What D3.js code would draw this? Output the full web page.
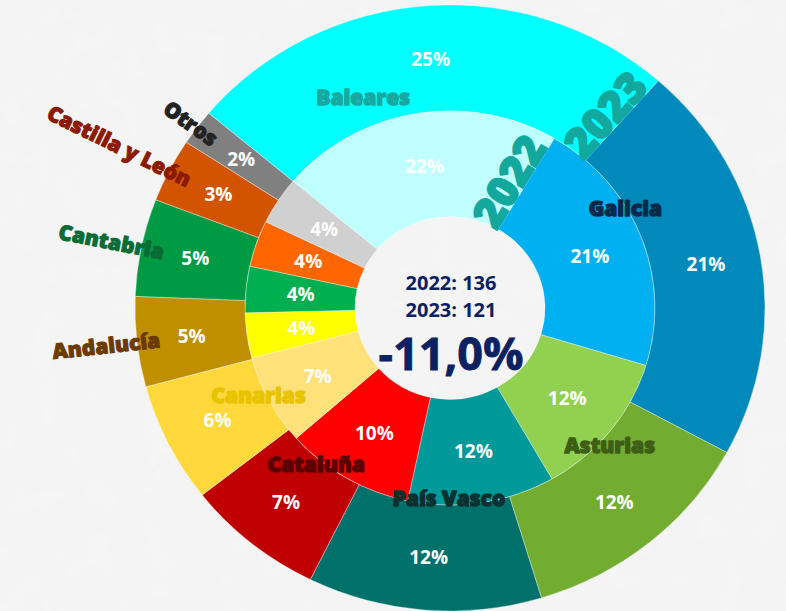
<!DOCTYPE html>
<html>
<head>
<meta charset="utf-8">
<script src="https://cdn.jsdelivr.net/npm/d3@7"></script>
<style>
  html, body { margin: 0; padding: 0; background: #f3f3f3; }
  svg { display: block; }
</style>
</head>
<body>
<svg id="chart" width="786" height="611"></svg>
<script>
// ---------------- DATA ----------------
const categories = ["Baleares", "Galicia", "Asturias", "País Vasco", "Cataluña",
                    "Canarias", "Andalucía", "Cantabria", "Castilla y León", "Otros"];
// share of total (%) per year
const share2022 = [22.4, 21.2, 12.0, 11.6, 10.2, 7.4, 3.7, 3.8, 3.8, 3.9];
const share2023 = [25.4, 21.4, 12.4, 12.0, 7.1, 6.4, 4.8, 5.2, 3.4, 1.9];
const years = ["2022", "2023"];
const totals = [136, 121];

// ---------------- STYLE ----------------
const colors2022 = ["#BFFFFF", "#00B0F0", "#92D050", "#009999", "#FF0000",
                    "#FFE17A", "#FFFF00", "#00B050", "#FF6600", "#D0D0D0"];
const colors2023 = ["#00FFFF", "#0089BA", "#72AC30", "#00706B", "#C00000",
                    "#FFD83C", "#BF8F00", "#009944", "#D35400", "#808080"];
const nameColors = {
  "Baleares": "#17A89F", "Galicia": "#0A2A4A", "Asturias": "#3E5E16",
  "País Vasco": "#0A3030", "Cataluña": "#5A0000", "Canarias": "#E8C300",
  "Andalucía": "#6B3A00", "Cantabria": "#0A6B35", "Castilla y León": "#8B1A00",
  "Otros": "#222222"
};
// polar placement (deg clockwise from top, radius) of names drawn inside the rings
const nameLayout = {
  "Baleares": [338.4, 236], "Galicia": [59.3, 204], "Asturias": [131.7, 214],
  "País Vasco": [180.3, 197], "Cataluña": [219.6, 210], "Canarias": [244.6, 212]
};

const W = 786, H = 611;
const cx = 450, cy = 308, ky = 0.962;
const rHole = 95, rMid = 205, rOut = 315;
const startA = -50 * Math.PI / 180;
const navy = "#0B2161";
const teal = "#12A89D";

const svg = d3.select("#chart");
const defs = svg.append("defs");
const flt = defs.append("filter").attr("id", "paper").attr("x", 0).attr("y", 0)
  .attr("width", "100%").attr("height", "100%");
flt.append("feTurbulence").attr("type", "fractalNoise").attr("baseFrequency", 0.035)
  .attr("numOctaves", 3).attr("seed", 4).attr("result", "n");
flt.append("feColorMatrix").attr("in", "n").attr("type", "matrix")
  .attr("values", "0 0 0 0 0.93  0 0 0 0 0.93  0 0 0 0 0.93  0 0 0 0.35 -0.05");
svg.append("rect").attr("width", W).attr("height", H).attr("fill", "#f4f4f4");
svg.append("rect").attr("width", W).attr("height", H).attr("filter", "url(#paper)");

const pie = d3.pie().sort(null).value(d => d)
  .startAngle(startA).endAngle(startA + 2 * Math.PI);
const pies = [pie(share2022), pie(share2023)];
const arcs = [
  d3.arc().innerRadius(rHole).outerRadius(rMid),
  d3.arc().innerRadius(rMid).outerRadius(rOut)
];
const palettes = [colors2022, colors2023];

const ringG = svg.append("g").attr("transform", `translate(${cx},${cy}) scale(1,${ky})`);
pies.forEach((p, i) => {
  ringG.append("g").selectAll("path").data(p).join("path")
    .attr("d", arcs[i])
    .attr("fill", (d, j) => palettes[i][j])
    .attr("stroke", "rgba(255,255,255,0.45)")
    .attr("stroke-width", 0.8);
});

const labG = svg.append("g").attr("transform", `translate(${cx},${cy})`);
const pct = v => d3.format(".0f")(v) + "%";
const polar = (aDeg, r) => {
  const a = aDeg * Math.PI / 180;
  return [r * Math.sin(a), -r * Math.cos(a) * ky];
};

// percentage labels
pies.forEach((p, i) => {
  labG.append("g").selectAll("text").data(p).join("text")
    .attr("x", d => arcs[i].centroid(d)[0])
    .attr("y", d => arcs[i].centroid(d)[1] * ky)
    .attr("text-anchor", "middle")
    .attr("dominant-baseline", "central")
    .attr("font-family", "'Open Sans', 'Noto Sans', sans-serif")
    .attr("font-weight", 700)
    .attr("font-size", 19)
    .attr("fill", "#ffffff")
    .text(d => pct(d.value));
});

// category names
const nameFont = "'Open Sans', 'Noto Sans', sans-serif";
function heavy(sel, color, sw) {
  return sel.attr("font-family", nameFont).attr("font-weight", 800)
    .attr("fill", color).attr("stroke", color).attr("stroke-width", sw)
    .attr("stroke-linejoin", "round").attr("paint-order", "stroke");
}
pies[1].forEach((d, j) => {
  const name = categories[j];
  if (nameLayout[name]) {
    const [x, y] = polar(nameLayout[name][0], nameLayout[name][1]);
    heavy(labG.append("text"), nameColors[name], 1.3)
      .attr("x", x).attr("y", y)
      .attr("text-anchor", "middle")
      .attr("dominant-baseline", "central")
      .attr("font-size", 21)
      .text(name);
  } else {
    // outside labels: radial, reading inward, ending just inside the outer ring
    const mid = (d.startAngle + d.endAngle) / 2;
    const aDeg = mid * 180 / Math.PI;
    const [x, y] = polar(aDeg, 292);
    const rot = Math.atan2(Math.cos(mid) * ky, -Math.sin(mid)) * 180 / Math.PI;
    heavy(labG.append("text"), nameColors[name], 1.1)
      .attr("transform", `translate(${x},${y}) rotate(${rot})`)
      .attr("text-anchor", "end")
      .attr("dominant-baseline", "central")
      .attr("font-size", 21)
      .text(name);
  }
});

// year labels along the end boundary of the first slice
pies.forEach((p, i) => {
  const th = p[0].endAngle;
  const rr = i === 0 ? 143 : 253;
  const [x, y] = polar(th * 180 / Math.PI, rr);
  const rot = Math.atan2(-Math.cos(th) * ky, Math.sin(th)) * 180 / Math.PI;
  heavy(labG.append("text"), teal, 2)
    .attr("transform", `translate(${x},${y}) rotate(${rot}) translate(0,-1)`)
    .attr("text-anchor", "middle")
    .attr("font-size", 42)
    .text(years[i]);
});

// centre texts
const loc = d3.formatLocale({decimal: ",", thousands: ".", grouping: [3], currency: ["", "€"], minus: "-"});
const change = (totals[1] - totals[0]) / totals[0];
const cG = svg.append("g").attr("font-family", "'Open Sans', 'Noto Sans', sans-serif")
  .attr("font-weight", 700).attr("fill", navy).attr("text-anchor", "middle");
cG.append("text").attr("x", 451).attr("y", 290).attr("font-size", 20)
  .text(`${years[0]}: ${totals[0]}`);
cG.append("text").attr("x", 451).attr("y", 317).attr("font-size", 20)
  .text(`${years[1]}: ${totals[1]}`);
cG.append("text").attr("x", 451).attr("y", 370).attr("font-size", 45)
  .attr("stroke", navy).attr("stroke-width", 0.8)
  .text(loc.format(".1%")(change));
</script>
</body>
</html>
